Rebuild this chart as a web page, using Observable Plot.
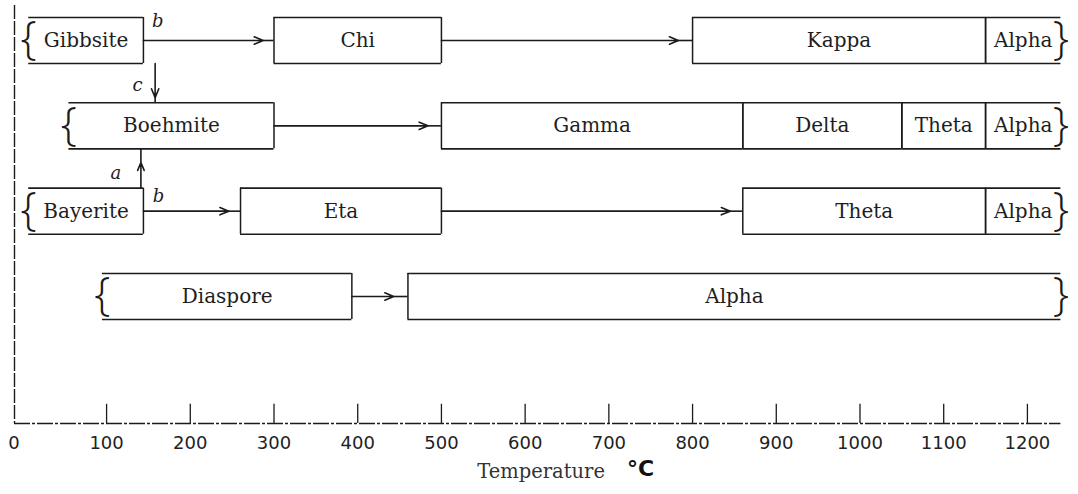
<!DOCTYPE html>
<html><head><meta charset="utf-8">
<script src="https://cdn.jsdelivr.net/npm/d3@7"></script>
<script src="https://cdn.jsdelivr.net/npm/@observablehq/plot@0.6"></script>
<style>
html,body{margin:0;padding:0;background:#fff;}
#chart svg text.lbl{letter-spacing:1px}
#chart svg text.tck{letter-spacing:1.6px}
</style></head><body><div id="chart"></div>
<script>
// ---- data ----
const rowIndex   = [0, 1, 2, 3]; // Gibbsite / Boehmite / Bayerite / Diaspore series
const phaseRow   = [0, 0, 0, 0,   1, 1, 1, 1, 1,   2, 2, 2, 2,   3, 3];
const phaseName  = ["Gibbsite", "Chi", "Kappa", "Alpha",
                    "Boehmite", "Gamma", "Delta", "Theta", "Alpha",
                    "Bayerite", "Eta", "Theta", "Alpha",
                    "Diaspore", "Alpha"];
const phaseStart = [7, 300, 800, 1150,   55, 500, 860, 1050, 1150,   7, 260, 860, 1150,   95, 460];
const phaseEnd   = [144, 500, 1150, 1240,   300, 860, 1050, 1150, 1240,   144, 500, 1150, 1240,   393, 1240];

// horizontal transformation arrows (°C): from box edge, arrow head, to box edge
const linkRow  = [0, 0, 1, 2, 2, 3];
const linkFrom = [144, 500, 300, 144, 500, 393];
const linkHead = [287, 783, 484, 246, 845, 443];
const linkTo   = [300, 800, 500, 260, 860, 460];

// vertical arrows (c: Gibbsite -> Boehmite, a: Bayerite -> Boehmite)
const vLinkT    = [158, 141];
const vLinkFrom = [0, 2];
const vLinkTo   = [1, 1];
const vLinkHead = [0.67, 1.43];

// route annotations
const noteText = ["b", "c", "a", "b"];
const noteT    = [161, 137, 111, 162];
const noteY    = [-0.23, 0.53, 1.56, 1.83];

const tickValues = [0, 100, 200, 300, 400, 500, 600, 700, 800, 900, 1000, 1100, 1200];
const tickLabels = ["0", "100", "200", "300", "400", "500", "600", "700", "800", "900", "1000", "1100", "1200"];
const axisTitle = ["Temperature", "°C"];
const axisTitleT = [619, 738];

// ---- derived tables ----
const H = 0.27;
const phases = phaseName.map((name, i) => ({
  name, row: phaseRow[i], start: phaseStart[i], end: phaseEnd[i],
  first: phaseRow.indexOf(phaseRow[i]) === i,
  last: phaseRow.lastIndexOf(phaseRow[i]) === i
}));
const links = linkRow.map((r, i) => ({row: r, from: linkFrom[i], head: linkHead[i], to: linkTo[i]}));
const vlinks = vLinkT.map((t, i) => {
  const dir = Math.sign(vLinkTo[i] - vLinkFrom[i]);
  return {t, y1: vLinkFrom[i] + dir * H, head: vLinkHead[i], y2: vLinkTo[i] - dir * H};
});
const notes = noteText.map((s, i) => ({s, t: noteT[i], y: noteY[i]}));
const ticks = tickValues.map((v, i) => ({v, label: tickLabels[i]}));
const titles = axisTitle.map((s, i) => ({s, t: axisTitleT[i]}));

const yTop = -0.41, yBase = 4.488;
const ink = "#1b1b1b";
const dashFor = d => d.row === 3 ? "8,2,2,2" : null;

const edgesL = phases.filter(d => !d.first);
const edgesR = phases.filter(d => !d.last);
const bracesL = phases.filter(d => d.first);
const bracesR = phases.filter(d => d.last);

const chart = Plot.plot({
  width: 1078, height: 494,
  marginTop: 5, marginBottom: 71, marginLeft: 14, marginRight: 17.6,
  x: {domain: [-10, 1240], axis: null},
  y: {domain: [yTop, yBase], reverse: true, axis: null},
  marks: [
    // axes frame
    Plot.ruleX([-10], {y1: yTop, y2: yBase, stroke: ink, strokeWidth: 1.4, strokeDasharray: "14,2"}),
    Plot.ruleY([yBase], {x1: -10, x2: 1240, stroke: ink, strokeWidth: 1.4, strokeDasharray: "16,2,3,2"}),
    Plot.ruleX(ticks.filter(d => d.v > 0), {x: "v", y1: yBase, y2: yBase - 0.225, stroke: ink, strokeWidth: 1.3}),
    Plot.text(ticks.filter(d => d.v > 0), {x: "v", y: yBase, dy: 20, text: "label", fontFamily: "DejaVu Sans", fontSize: 18, fill: "#222", className: "tck"}),
    Plot.text(ticks.filter(d => d.v === 0), {x: "v", y: yBase, dy: 20, dx: -9, text: "label", fontFamily: "DejaVu Sans", fontSize: 18, fill: "#222"}),
    Plot.text(titles.slice(0, 1), {x: "t", y: yBase, dy: 48, text: "s", fontFamily: "DejaVu Serif", fontSize: 19.5, fill: "#333", className: "lbl"}),
    Plot.text(titles.slice(1), {x: "t", y: yBase, dy: 45, text: "s", fontFamily: "DejaVu Sans", fontWeight: "bold", fontSize: 22, fill: "#111"}),

    // phase boxes: top and bottom edges
    Plot.ruleY(phases, {x1: "start", x2: "end", y: d => d.row - H, stroke: ink, strokeWidth: 1.6, strokeDasharray: dashFor}),
    Plot.ruleY(phases, {x1: "start", x2: "end", y: d => d.row + H, stroke: ink, strokeWidth: 1.6, strokeDasharray: dashFor}),
    // side edges
    Plot.ruleX(edgesL, {x: "start", y1: d => d.row - H, y2: d => d.row + H, stroke: ink, strokeWidth: 1.5, strokeDasharray: d => d.row === 3 ? "6,3" : null}),
    Plot.ruleX(edgesR, {x: "end", y1: d => d.row - H, y2: d => d.row + H, stroke: ink, strokeWidth: 1.5, strokeDasharray: d => d.row === 3 ? "6,3" : null}),
    // braces at open ends
    Plot.text(bracesL, {x: "start", y: "row", text: () => "{", fontFamily: "Open Sans", fontWeight: 300, fontSize: 46, fill: ink, dy: -1}),
    Plot.text(bracesR, {x: "end", y: "row", text: () => "}", fontFamily: "Open Sans", fontWeight: 300, fontSize: 46, fill: ink, dy: -1}),

    // phase names
    Plot.text(phases, {x: d => (d.start + d.end) / 2, y: "row", text: "name", fontFamily: "DejaVu Serif", fontSize: 20, fill: "#1e1e1e", className: "lbl"}),

    // horizontal transformation arrows
    Plot.arrow(links, {x1: "from", x2: "head", y1: "row", y2: "row", stroke: ink, strokeWidth: 1.6, headLength: 9, headAngle: 45}),
    Plot.ruleY(links, {x1: "head", x2: "to", y: "row", stroke: ink, strokeWidth: 1.6, strokeDasharray: d => d.row === 3 ? "5,3" : null}),
    // vertical arrows
    Plot.arrow(vlinks, {x1: "t", x2: "t", y1: "y1", y2: "head", stroke: ink, strokeWidth: 1.6, headLength: 9, headAngle: 45}),
    Plot.ruleX(vlinks, {x: "t", y1: "head", y2: "y2", stroke: ink, strokeWidth: 1.6}),

    // route letters
    Plot.text(notes, {x: "t", y: "y", text: "s", fontFamily: "DejaVu Serif", fontStyle: "italic", fontSize: 18, fill: "#222"})
  ]
});
document.getElementById("chart").appendChild(chart);
</script>
</body></html>
